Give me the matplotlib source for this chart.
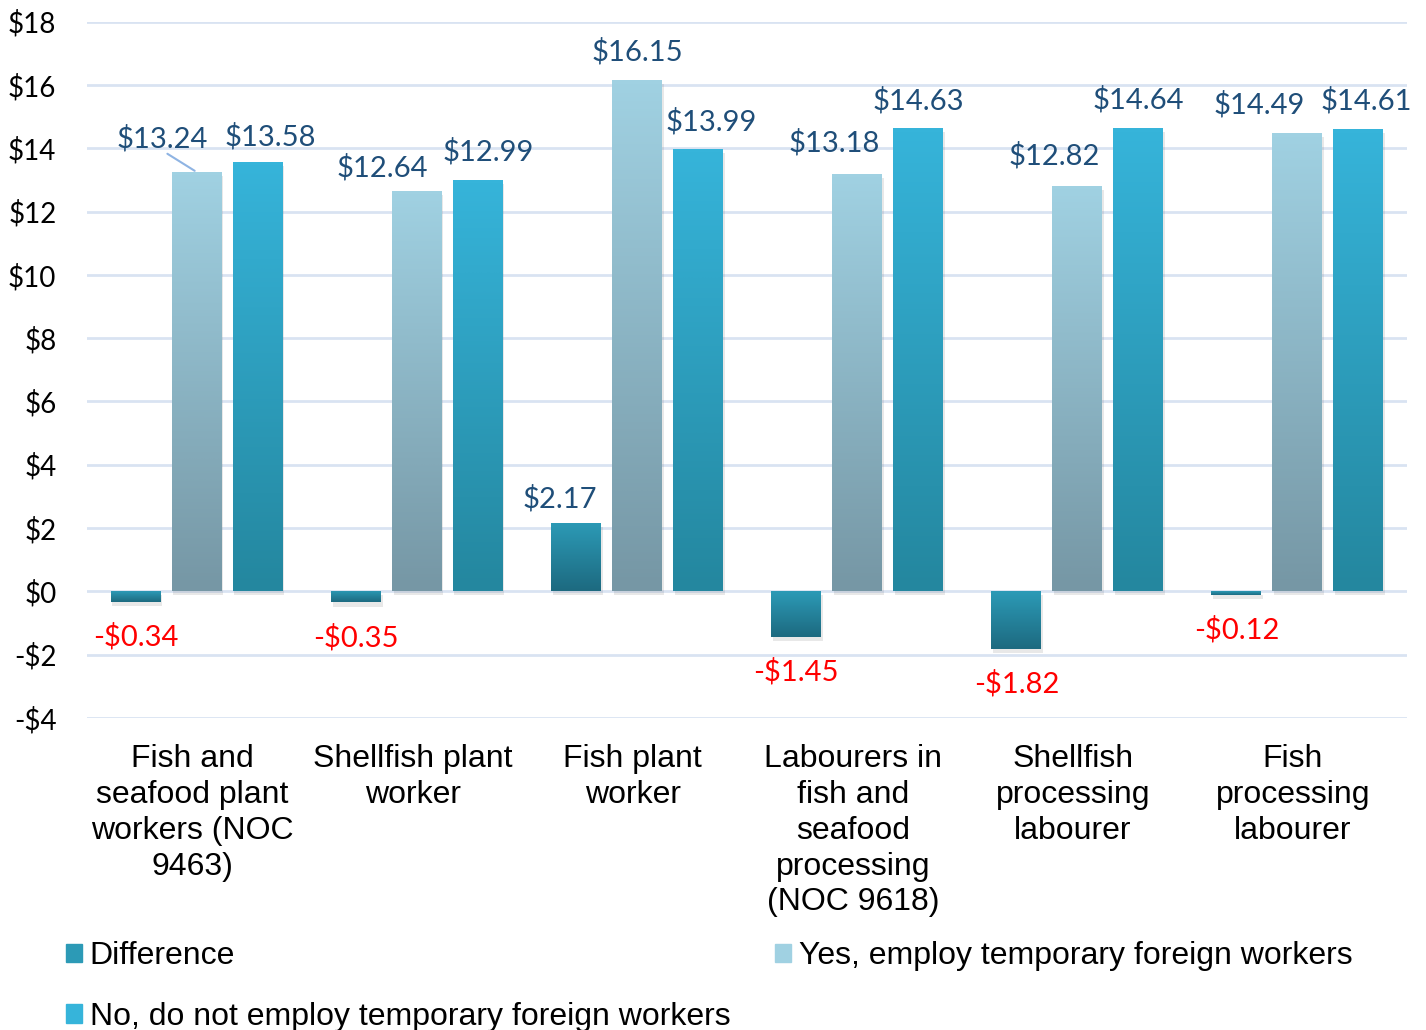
import numpy as np
import matplotlib
matplotlib.use('Agg')
import matplotlib.pyplot as plt
import matplotlib.patheffects as pe
from matplotlib.patches import Rectangle
from matplotlib.colors import LinearSegmentedColormap

categories = ["Fish and\nseafood plant\nworkers (NOC\n9463)",
              "Shellfish plant\nworker",
              "Fish plant\nworker",
              "Labourers in\nfish and\nseafood\nprocessing\n(NOC 9618)",
              "Shellfish\nprocessing\nlabourer",
              "Fish\nprocessing\nlabourer"]
difference = [-0.34, -0.35, 2.17, -1.45, -1.82, -0.12]
yes_tfw = [13.24, 12.64, 16.15, 13.18, 12.82, 14.49]
no_tfw = [13.58, 12.99, 13.99, 14.63, 14.64, 14.61]
series_names = ["Difference", "Yes, employ temporary foreign workers",
                "No, do not employ temporary foreign workers"]

# gradient colours (top, bottom)
grads = [("#2c9ab6", "#1d6a80"), ("#a0d1e2", "#7697a5"), ("#36b4da", "#24879f")]
# label offsets in px, to mimic the original (manually placed) labels
yes_dx = [-35, -35, 0, -23, -23, -38]
yes_dy = [34, 24, 28, 31, 30, 28]
no_dx = [12, 10, 13, 0, 0, 8]
no_dy = [25, 28, 27, 28, 28, 28]
diff_dx = [0, 0, -16, 0, 0, 0]

fig = plt.figure(figsize=(14.26, 10.30), dpi=100)
ax = fig.add_axes([0.061, 0.303, 0.926, 0.676])

x = np.arange(len(categories))
w = 0.227
step = 0.277
sans = "Liberation Sans"
lab_font = "Lato"


def grad_bars(xs, vals, c_top, c_bot, z):
    cmap = LinearSegmentedColormap.from_list("g", [c_bot, c_top])
    bars = ax.bar(xs, vals, w, color=c_bot, zorder=z,
                  path_effects=[pe.SimplePatchShadow(offset=(1, -3), shadow_rgbFace="#666666", alpha=0.15),
                                pe.Normal()])
    for b in bars:
        x0, y0 = b.get_x(), b.get_y()
        h = b.get_height()
        lo, hi = min(y0, y0 + h), max(y0, y0 + h)
        grad = np.linspace(1, 0, 64).reshape(-1, 1)
        im = ax.imshow(grad, cmap=cmap, aspect="auto", extent=(x0, x0 + w, lo, hi),
                       zorder=z + 0.1, interpolation="bicubic")
        im.set_clip_path(b)
    return bars


grad_bars(x - step, difference, *grads[0], 3)
grad_bars(x, yes_tfw, *grads[1], 3)
grad_bars(x + step, no_tfw, *grads[2], 3)

px = 72 / 100
fs_lab = 21
for i in range(len(categories)):
    d = difference[i]
    if d < 0:
        ax.annotate(f"-${abs(d):.2f}", (x[i] - step, d), xytext=(diff_dx[i] * px, -35 * px),
                    textcoords="offset points", ha="center", va="center",
                    color="#ff0000", fontsize=fs_lab, family=lab_font)
    else:
        ax.annotate(f"${d:.2f}", (x[i] - step, d), xytext=(diff_dx[i] * px, 24 * px),
                    textcoords="offset points", ha="center", va="center",
                    color="#1f4e79", fontsize=fs_lab, family=lab_font)
    ax.annotate(f"${yes_tfw[i]:.2f}", (x[i], yes_tfw[i]), xytext=(yes_dx[i] * px, yes_dy[i] * px),
                textcoords="offset points", ha="center", va="center",
                color="#1f4e79", fontsize=fs_lab, family=lab_font)
    ax.annotate(f"${no_tfw[i]:.2f}", (x[i] + step, no_tfw[i]), xytext=(no_dx[i] * px, no_dy[i] * px),
                textcoords="offset points", ha="center", va="center",
                color="#1f4e79", fontsize=fs_lab, family=lab_font)

# leader line on first Yes label
ax.annotate("", (x[0], yes_tfw[0]), xytext=(-32 * px, 20 * px), textcoords="offset points",
            arrowprops=dict(arrowstyle="-", color="#8fb4e3", lw=1.5))

ax.set_xlim(-0.5, len(categories) - 0.5)
ax.set_ylim(-4, 18)
ax.set_yticks(np.arange(-4, 19, 2))
ax.set_yticklabels([f"-${-v}" if v < 0 else f"${v}" for v in range(-4, 19, 2)],
                   family=lab_font, fontsize=20)
ax.set_xticks(x - 0.02)
ax.set_xticklabels(categories, family=sans, fontsize=23, linespacing=1.25)
ax.tick_params(length=0)
ax.tick_params(axis="y", pad=22)
ax.tick_params(axis="x", pad=19)
ax.grid(axis="y", color="#d9e3f2", lw=2)
ax.set_axisbelow(True)
for s in ax.spines.values():
    s.set_visible(False)

handles = [Rectangle((0, 0), 1, 1, color=grads[k][0]) for k in (0, 2, 1)]
labels = [series_names[k] for k in (0, 2, 1)]
fig.legend(handles, labels, ncol=2, loc="upper left", bbox_to_anchor=(0.046, 0.086),
           frameon=False, prop={"family": sans, "size": 23}, handlelength=0.5,
           handleheight=0.5, handletextpad=0.25, columnspacing=1.4, labelspacing=0.95,
           borderaxespad=0, borderpad=0)

fig.savefig("out.png", dpi=100)
